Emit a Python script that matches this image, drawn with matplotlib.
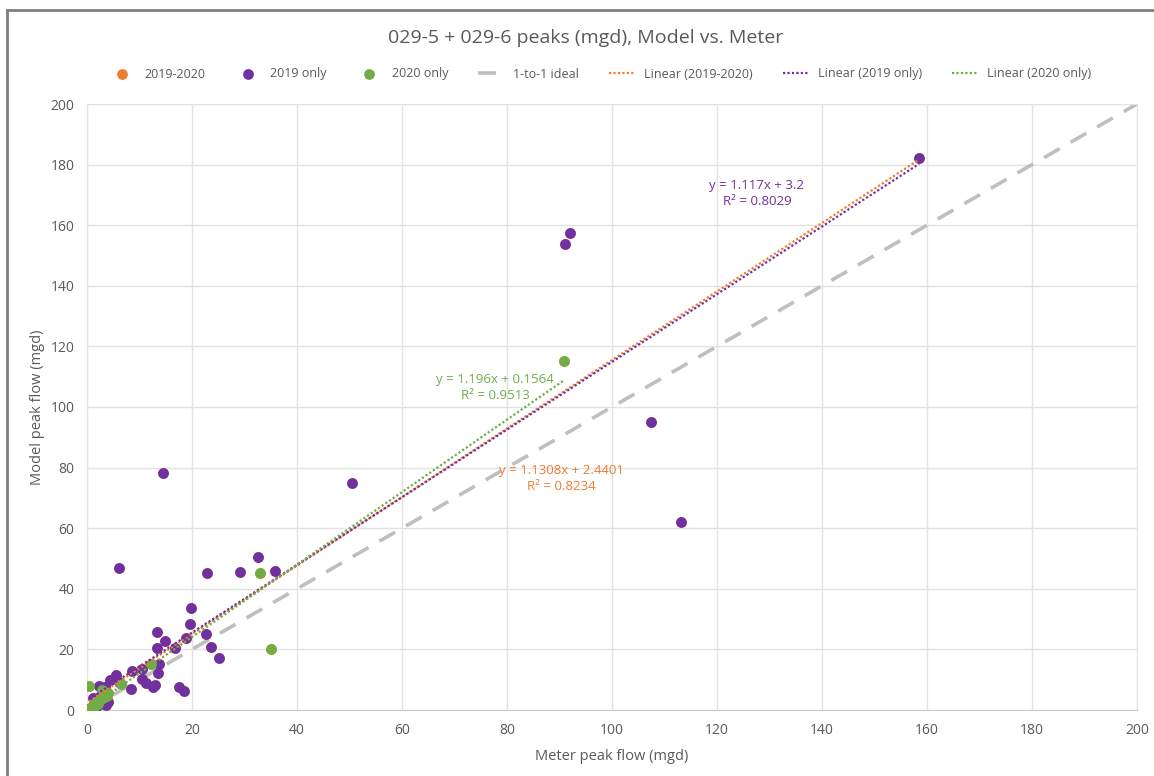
import numpy as np
import matplotlib.pyplot as plt
from matplotlib.lines import Line2D

plt.rcParams['font.family'] = ['Open Sans', 'DejaVu Sans']

# ---------------- data ----------------
x_2019 = [158.5, 92.0, 91.0, 107.4, 113.1, 50.5, 14.5, 6.1, 22.8, 29.1, 32.6, 35.9,
          19.9, 19.6, 22.6, 23.6, 25.1, 13.3, 14.8, 13.3, 16.8, 18.9, 13.8, 13.5,
          10.5, 8.5, 10.5, 11.2, 13.0, 12.5, 17.5, 18.5, 8.4, 5.6, 4.4, 6.0, 2.2,
          3.4, 1.1, 0.7, 0.4, 1.5, 2.5, 3.2, 4.0, 3.6, 2.8, 1.8]
y_2019 = [182.2, 157.4, 153.8, 95.0, 62.0, 74.9, 78.2, 46.9, 45.1, 45.4, 50.6, 45.8,
          33.8, 28.4, 25.1, 20.9, 17.0, 25.6, 22.8, 20.5, 20.3, 23.9, 15.3, 12.3,
          13.6, 12.8, 10.3, 8.8, 8.2, 7.5, 7.7, 6.3, 7.0, 11.7, 9.9, 9.3, 8.0,
          7.7, 3.9, 0.6, 0.3, 2.5, 2.0, 4.5, 2.5, 1.8, 5.5, 1.0]

x_2020 = [90.9, 33.0, 35.0, 12.1, 6.5, 0.4, 2.8, 0.8, 1.2, 1.8, 2.5, 3.0, 3.5,
          4.0, 2.2, 1.5, 3.8, 1.0, 2.0]
y_2020 = [115.2, 45.3, 20.2, 15.3, 8.6, 8.0, 6.6, 0.8, 1.8, 2.5, 3.5, 4.0, 5.0,
          5.5, 3.0, 1.2, 4.6, 0.3, 2.0]

# both years together
x_all = x_2019 + x_2020
y_all = y_2019 + y_2020

# trendline equations shown on the chart
fit_all = (1.1308, 2.4401, 0.8234)
fit_2019 = (1.117, 3.2, 0.8029)
fit_2020 = (1.196, 0.1564, 0.9513)

c_orange = '#ED7D31'
c_purple = '#7030A0'
c_green = '#70AD47'
c_text = '#595959'

fig = plt.figure(figsize=(11.54, 7.76), dpi=100)
ax = fig.add_axes([87/1154, 1-710/776, 1050/1154, 606/776])

ax.scatter(x_all, y_all, s=60, color=c_orange, zorder=3, label='2019-2020', linewidths=0)
ax.scatter(x_2019, y_2019, s=60, color=c_purple, zorder=3, label='2019 only', linewidths=0)
ax.scatter(x_2020, y_2020, s=60, color=c_green, zorder=3, label='2020 only', linewidths=0)

ax.plot([0, 200], [0, 200], color='#BFBFBF', lw=2.6, dashes=(5, 3.5), zorder=2, label='1-to-1 ideal')

def trend(xs, fit, col, lab):
    xx = np.array([min(xs), max(xs)])
    ax.plot(xx, fit[0]*xx + fit[1], color=col, lw=1.6, ls=(0, (1, 1)), zorder=4, label=lab)

trend(x_all, fit_all, c_orange, 'Linear (2019-2020)')
trend(x_2019, fit_2019, c_purple, 'Linear (2019 only)')
trend(x_2020, fit_2020, c_green, 'Linear (2020 only)')

ax.text(127.6, 170.6, 'y = 1.117x + 3.2\nR² = 0.8029', color=c_purple, fontsize=9.5,
        ha='center', va='center', linespacing=1.3)
ax.text(77.7, 106.5, 'y = 1.196x + 0.1564\nR² = 0.9513', color=c_green, fontsize=9.5,
        ha='center', va='center', linespacing=1.3)
ax.text(90.3, 76.5, 'y = 1.1308x + 2.4401\nR² = 0.8234', color=c_orange, fontsize=9.5,
        ha='center', va='center', linespacing=1.3)

ax.set_xlim(0, 200)
ax.set_ylim(0, 200)
ax.set_xticks(range(0, 201, 20))
ax.set_yticks(range(0, 201, 20))
ax.grid(color='#E3E3E3', lw=1)
ax.set_axisbelow(True)
for s in ax.spines.values():
    s.set_color('#E3E3E3')
ax.spines['bottom'].set_color('#CCCCCC')
ax.tick_params(length=0, colors=c_text, labelsize=10, pad=9)

ax.set_xlabel('Meter peak flow (mgd)', color=c_text, fontsize=10.5, labelpad=8)
ax.set_ylabel('Model peak flow (mgd)', color=c_text, fontsize=10.5, labelpad=4)

fig.text(586/1154, 1-38/776, '029-5 + 029-6 peaks (mgd), Model vs. Meter', color=c_text,
         fontsize=14, ha='center', va='center')

fig.legend(loc='center', bbox_to_anchor=(600/1154, 1-74/776), ncol=7, frameon=False,
           fontsize=9, labelcolor=c_text, handlelength=2.0, columnspacing=2.4,
           handletextpad=0.8, scatterpoints=1)

# chart frame
fig.add_artist(Line2D([7/1154, 7/1154], [0, 1-10/776], color='#7F7F7F', lw=2))
fig.add_artist(Line2D([7/1154, 1], [1-10/776, 1-10/776], color='#7F7F7F', lw=2))

fig.savefig('out.png', dpi=100)
